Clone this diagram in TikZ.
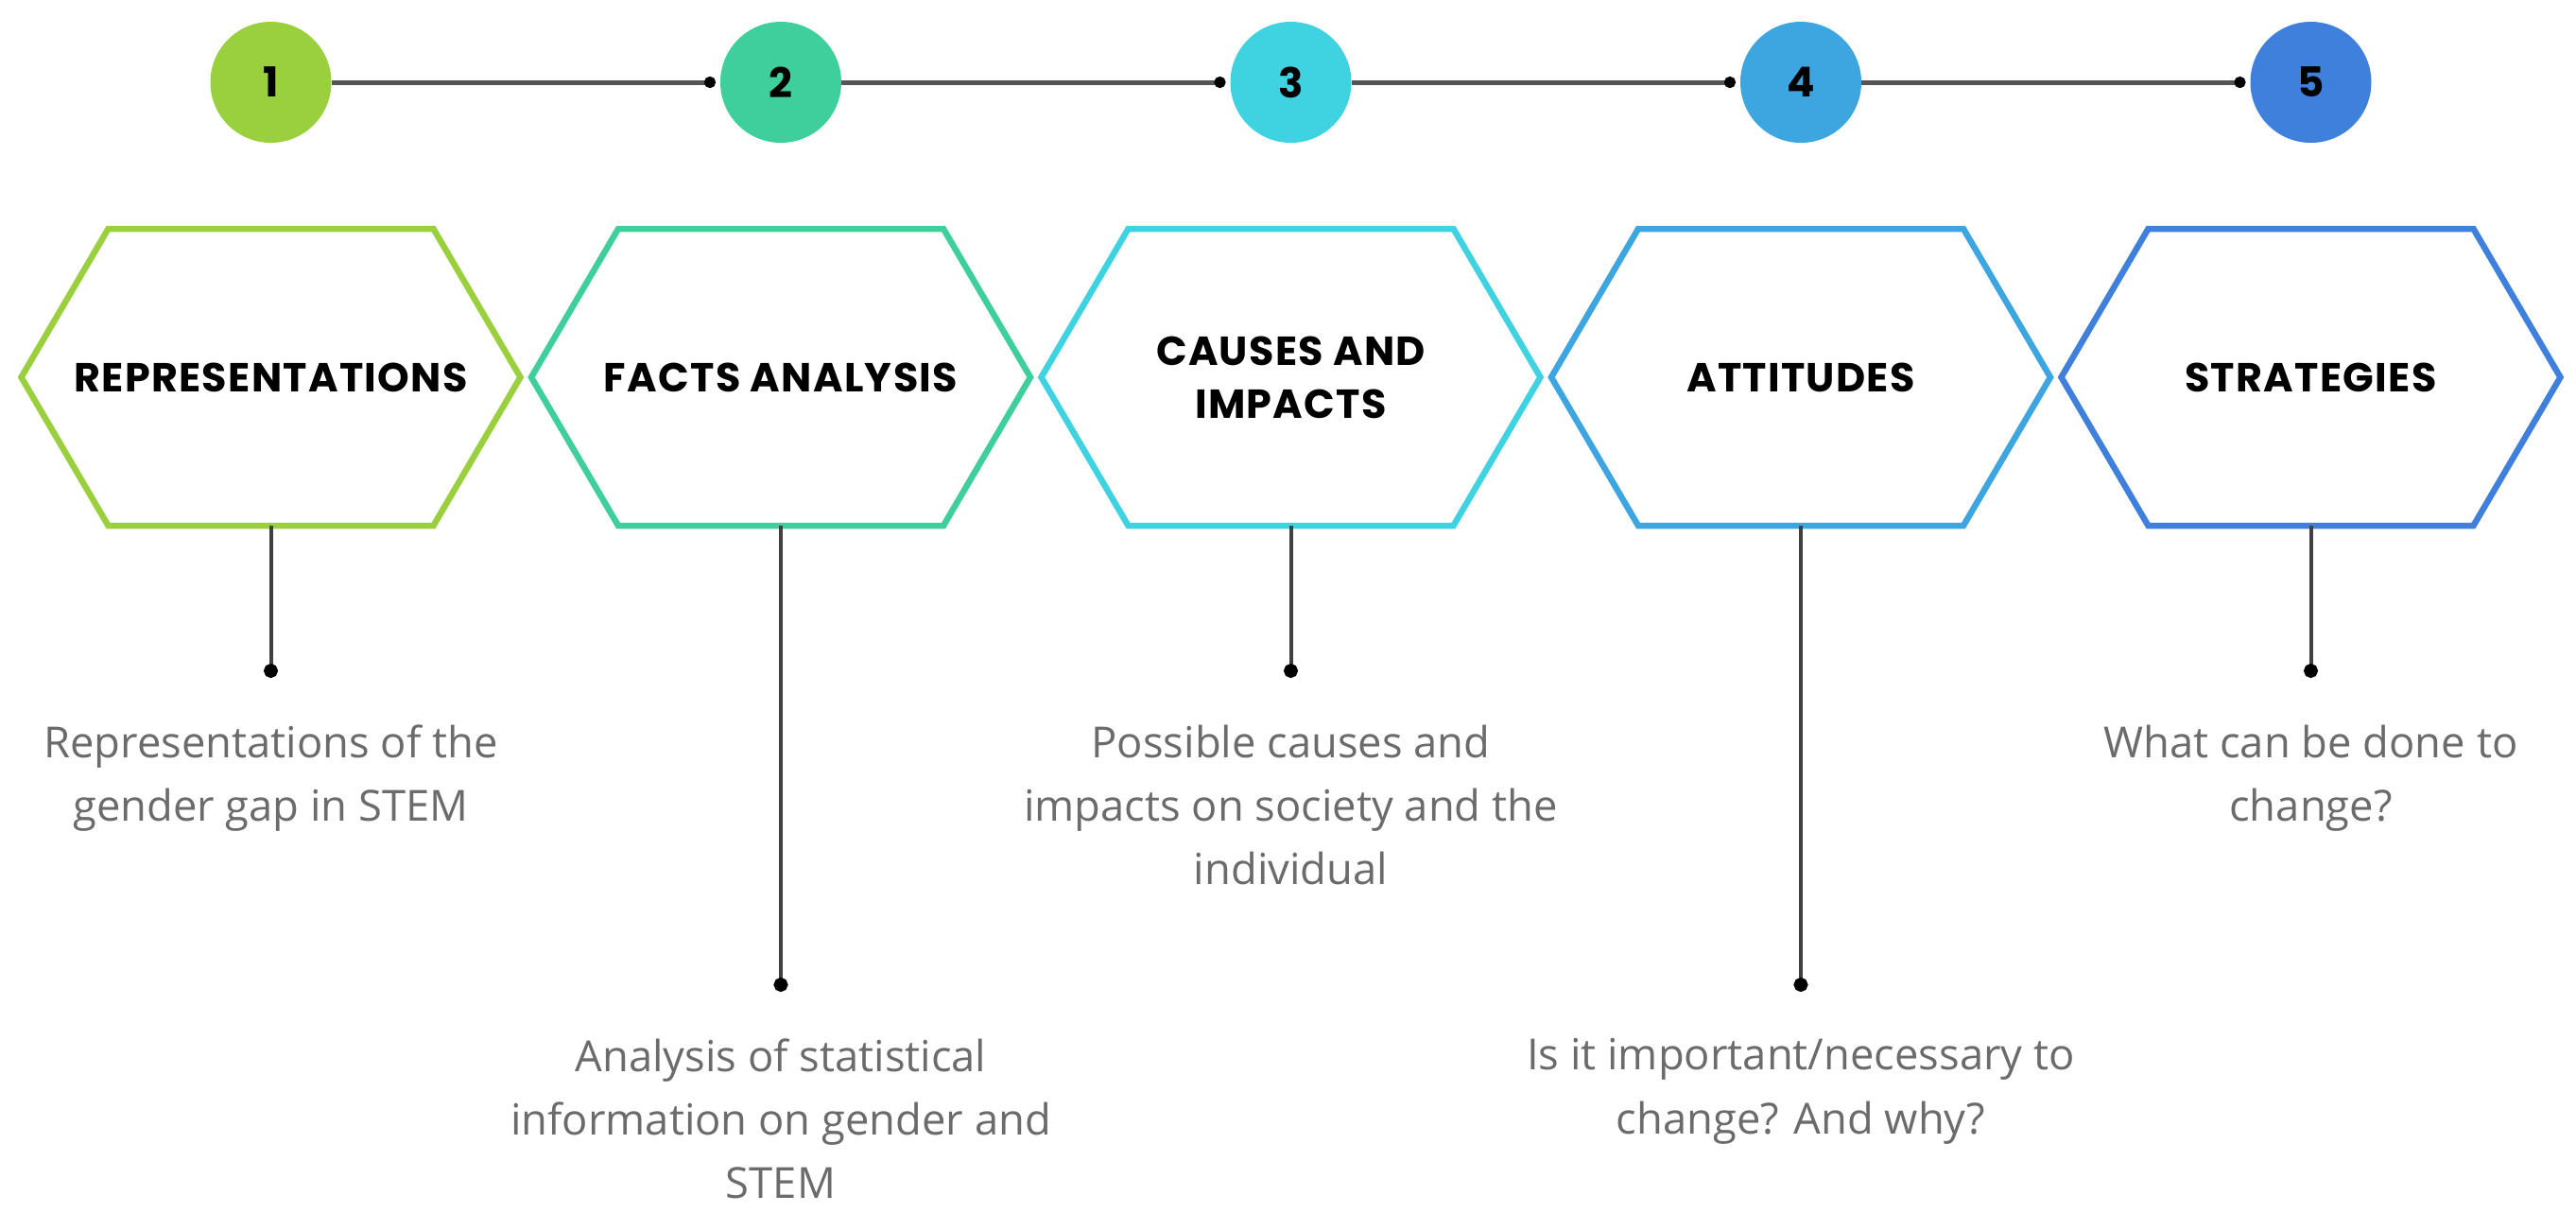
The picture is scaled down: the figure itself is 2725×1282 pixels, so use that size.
\documentclass[tikz,border=0pt]{standalone}
\usepackage{fontspec}
\setmainfont{Open Sans}
\newfontfamily\headfont{Poppins}[LetterSpace=3]
\newfontfamily\numfont{Poppins}
\usetikzlibrary{positioning,arrows.meta}
\definecolor{stepone}{HTML}{9ACF3E}
\definecolor{steptwo}{HTML}{3FCF9D}
\definecolor{stepthree}{HTML}{3FD2E0}
\definecolor{stepfour}{HTML}{3DA5DF}
\definecolor{stepfive}{HTML}{3F80DC}
\definecolor{notegray}{HTML}{6B6B6B}
\definecolor{linegray}{HTML}{555555}

\begin{document}
\begin{tikzpicture}[x=0.1mm,y=-0.1mm,
  hex node/.style={minimum width=52.8mm,minimum height=31.4mm,inner sep=0pt,outer sep=0pt,align=center,font=\headfont\bfseries\fontsize{12.2}{15.9}\selectfont},
  hex line/.style={line width=0.65mm,line join=miter},
  num node/.style={circle,minimum size=12.8mm,inner sep=0pt,outer sep=0pt,font=\numfont\bfseries\fontsize{12.4}{14}\selectfont},
  link/.style={-{Circle[length=1.2mm,color=black]},line width=0.5mm,draw=linegray,shorten >=0.5mm},
  stem/.style={-{Circle[length=1.5mm,color=black]},line width=0.4mm,draw=black!75},
  note/.style={align=center,inner sep=0pt,text=notegray,font=\fontsize{12.9}{19.1}\selectfont}]
  \useasboundingbox (0,0) rectangle (2725,1282);

  % the five steps
  \node[hex node] (h1) at (286.5,399) {REPRESENTATIONS};
  \node[hex node, right=1.15mm of h1] (h2) {FACTS ANALYSIS};
  \node[hex node, right=1.15mm of h2] (h3) {CAUSES AND\\IMPACTS};
  \node[hex node, right=1.15mm of h3] (h4) {ATTITUDES};
  \node[hex node, right=1.15mm of h4] (h5) {STRATEGIES};
  \foreach \h/\c in {h1/stepone,h2/steptwo,h3/stepthree,h4/stepfour,h5/stepfive}
    \draw[hex line,draw=\c] (\h.west) -- ([xshift=9.2mm]\h.north west) -- ([xshift=-9.2mm]\h.north east) -- (\h.east) -- ([xshift=-9.2mm]\h.south east) -- ([xshift=9.2mm]\h.south west) -- cycle;

  % numbers on top
  \node[num node, fill=stepone, above=9.1mm of h1] (n1) {1};
  \node[num node, fill=steptwo, above=9.1mm of h2] (n2) {2};
  \node[num node, fill=stepthree, above=9.1mm of h3] (n3) {3};
  \node[num node, fill=stepfour, above=9.1mm of h4] (n4) {4};
  \node[num node, fill=stepfive, above=9.1mm of h5] (n5) {5};
  \draw[link] (n1) -- (n2);
  \draw[link] (n2) -- (n3);
  \draw[link] (n3) -- (n4);
  \draw[link] (n4) -- (n5);

  % descriptions, short and long stems
  \coordinate[below=16.1mm of h1] (d1);
  \coordinate[below=49.3mm of h2] (d2);
  \coordinate[below=16.1mm of h3] (d3);
  \coordinate[below=49.3mm of h4] (d4);
  \coordinate[below=16.1mm of h5] (d5);
  \draw[stem] (h1.south) -- (d1);
  \draw[stem] (h2.south) -- (d2);
  \draw[stem] (h3.south) -- (d3);
  \draw[stem] (h4.south) -- (d4);
  \draw[stem] (h5.south) -- (d5);
  \node[note, below=4.9mm of d1] (t1) {Representations of the\\gender gap in STEM};
  \node[note, below=4.9mm of d2] (t2) {Analysis of statistical\\information on gender and\\STEM};
  \node[note, below=4.9mm of d3] (t3) {Possible causes and\\impacts on society and the\\individual};
  \node[note, below=4.9mm of d4] (t4) {Is it important/necessary to\\change? And why?};
  \node[note, below=4.9mm of d5] (t5) {What can be done to\\change?};
\end{tikzpicture}
\end{document}
